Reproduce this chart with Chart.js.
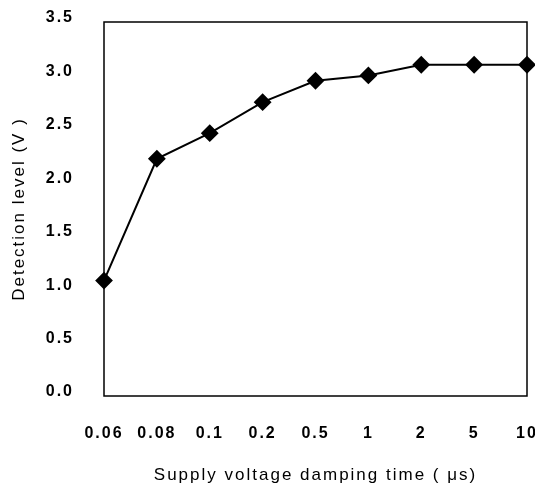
<!DOCTYPE html>
<html>
<head>
<meta charset="utf-8">
<script src="https://cdn.jsdelivr.net/npm/chart.js@4"></script>
<style>
  html, body { margin: 0; padding: 0; background: #fff; }
  #wrap { width: 535px; height: 486px; }
</style>
</head>
<body>
<div id="wrap"><canvas id="myChart01"></canvas></div>
<script>
const dampingTimes = ['0.06', '0.08', '0.1', '0.2', '0.5', '1', '2', '5', '10'];
const detectionLevels = [1.08, 2.22, 2.46, 2.75, 2.95, 3.00, 3.10, 3.10, 3.10];
const yMin = 0, yMax = 3.5, yStep = 0.5;

// frame around the plot area + letter spacing like the scanned figure
const boxPlugin = {
    id: 'box',
    beforeUpdate(chart) {
        chart.ctx.letterSpacing = '2px';
    },
    beforeDraw(chart) {
        chart.ctx.letterSpacing = '2px';
    },
    afterDatasetsDraw(chart) {
        const a = chart.chartArea;
        const ctx = chart.ctx;
        ctx.save();
        ctx.strokeStyle = '#000';
        ctx.lineWidth = 1.5;
        ctx.strokeRect(a.left, a.top, a.right - a.left, a.bottom - a.top);
        ctx.restore();
    }
};

const tickFont = { family: "'Liberation Sans', Arial", size: 16, weight: 'bold' };
const titleFont = { family: "'Liberation Sans', Arial", size: 17 };

const ctx01 = document.getElementById('myChart01').getContext('2d');
const myChart01 = new Chart(ctx01, {
    type: 'line',
    data: {
        labels: dampingTimes,
        datasets: [{
            data: detectionLevels,
            borderColor: '#000',
            backgroundColor: '#000',
            borderWidth: 2,
            pointStyle: 'rectRot',
            pointRadius: 7.5,
            pointHoverRadius: 7.5,
            clip: false
        }]
    },
    options: {
        animation: false,
        responsive: true,
        maintainAspectRatio: false,
        layout: { autoPadding: false, padding: { left: 0, right: 8, top: 22, bottom: 0 } },
        plugins: {
            legend: { display: false },
            tooltip: { enabled: false }
        },
        scales: {
            x: {
                offset: false,
                grid: { display: false, drawTicks: false },
                border: { display: false },
                ticks: {
                    color: '#000',
                    padding: 28,
                    maxRotation: 0,
                    autoSkip: false,
                    font: tickFont
                },
                title: {
                    display: true,
                    text: 'Supply voltage damping time ( μs)',
                    color: '#000',
                    padding: { top: 0, bottom: 0 },
                    font: titleFont
                },
                afterFit(scale) {
                    scale.height = 90;
                    scale.paddingLeft = 0;
                    scale.paddingRight = 0;
                }
            },
            y: {
                min: yMin,
                max: yMax,
                grid: { display: false, drawTicks: false },
                border: { display: false },
                ticks: {
                    stepSize: yStep,
                    color: '#000',
                    padding: 30,
                    labelOffset: -4,
                    font: tickFont,
                    callback: (v) => Number(v).toFixed(1)
                },
                title: {
                    display: true,
                    text: 'Detection level (V )',
                    color: '#000',
                    padding: { top: 9, bottom: 0 },
                    font: titleFont
                },
                afterFit(scale) {
                    scale.width = 104;
                    scale.paddingTop = 0;
                    scale.paddingBottom = 0;
                }
            }
        }
    },
    plugins: [boxPlugin]
});
</script>
</body>
</html>
